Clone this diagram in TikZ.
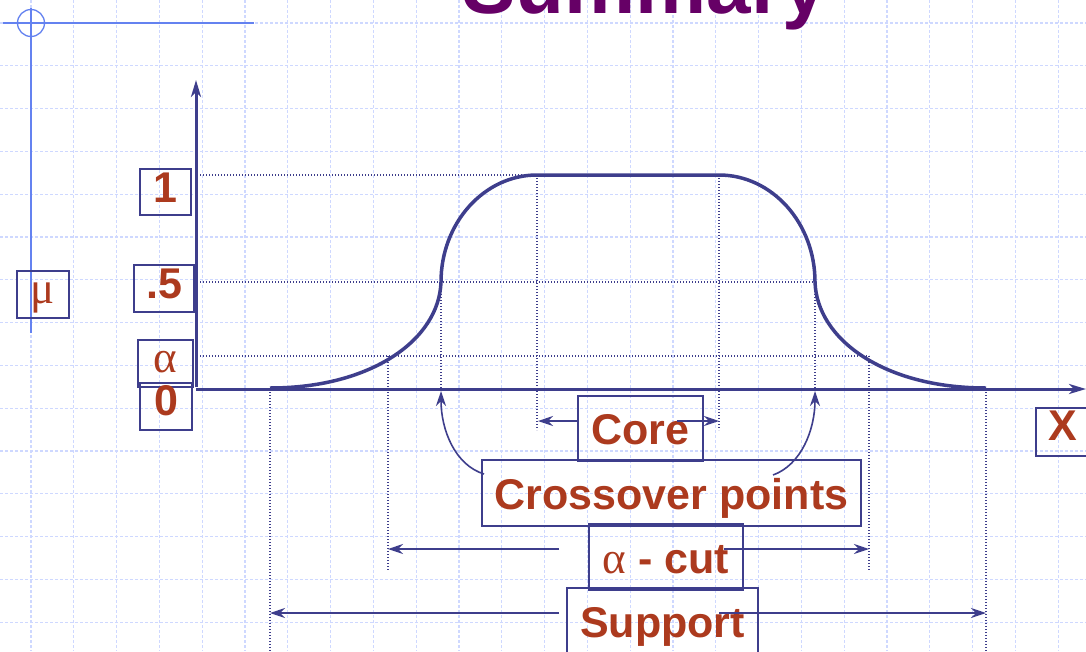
\documentclass[tikz,border=0pt]{standalone}
\usepackage{fontspec}
\setmainfont{Liberation Sans}
\newfontfamily\grk{Liberation Serif}
\usetikzlibrary{arrows.meta}
\definecolor{ink}{RGB}{62,62,140}
\definecolor{txt}{RGB}{172,58,30}
\definecolor{gridc}{RGB}{206,216,255}
\definecolor{deco}{RGB}{100,130,240}
\definecolor{ttl}{RGB}{102,0,102}
\begin{document}
\begin{tikzpicture}[x=1pt,y=-1pt,
  gridline/.style={gridc, line width=1.3pt, dash pattern=on 3pt off 2pt},
  guide/.style={ink, line width=1.3pt, dash pattern=on 1.3pt off 1.7pt},
  mf/.style={ink, line width=3.5pt},
  axisline/.style={ink, line width=3pt, -{Stealth[length=17pt,width=10pt,inset=5pt]}},
  lbl/.style={draw=ink, line width=1.2pt, inner sep=0pt, text=txt, font=\fontsize{43}{43}\selectfont\bfseries, text depth=0pt},
  grklbl/.style={lbl, font=\fontsize{45}{45}\selectfont\grk},
  ptr/.style={ink, line width=1.6pt, -{Stealth[length=15pt,width=10pt,inset=5pt]}},
  decoline/.style={deco, line width=1.3pt},
]
\useasboundingbox (0,0) rectangle (1086,651);
\clip (0,0) rectangle (1086,651);
\fill[white] (0,0) rectangle (1086,651);
% background grid
\foreach \i in {0,...,25} \draw[gridline] ({31+42.8*\i},0) -- ({31+42.8*\i},651);
\foreach \j in {0,...,15} \draw[gridline] (0,{23+42.8*\j}) -- (1086,{23+42.8*\j});
% slide decoration
\draw[decoline] (3,23) -- (254,23);
\draw[decoline] (31,8) -- (31,333);
\draw[decoline] (31,23) circle[radius=13.5pt];
% title (cut off by the top edge, as in the reference)
\node[font=\fontsize{80}{80}\selectfont\bfseries, text=ttl, anchor=base, inner sep=0pt] (title) at (644.5,13) {Summary};
% guides
\draw[guide] (197,175) -- (537,175);
\draw[guide] (197,282) -- (815,282);
\draw[guide] (197,356) -- (869,356);
\draw[guide] (537,175) -- (537,430);
\draw[guide] (719,175) -- (719,430);
\draw[guide] (441,282) -- (441,389);
\draw[guide] (815,282) -- (815,389);
\draw[guide] (388,356) -- (388,571);
\draw[guide] (869,356) -- (869,571);
\draw[guide] (270,389) -- (270,651);
\draw[guide] (986,389) -- (986,651);
% axes
\coordinate (o) at (196,387);
\coordinate (ytop) at (196,80);
\coordinate (xo) at (196,389);
\coordinate (xend) at (1086,389);
\draw[axisline] (o) -- (ytop);
\draw[axisline] (xo) -- (xend);
% membership function
\draw[mf] (270,388) .. controls (371,388) and (439,340) .. (441,282)
  .. controls (441,223) and (484,175) .. (537,175) -- (719,175)
  .. controls (772,175) and (815,223) .. (815,282)
  .. controls (817,340) and (885,388) .. (986,388);
% labels
\node[lbl, minimum width=51pt, minimum height=46pt, text height=20pt] (one) at (165.5,192) {1};
\node[lbl, minimum width=60pt, minimum height=47pt, text height=19pt] (half) at (164,288.5) {.5};
\node[grklbl, minimum width=55pt, minimum height=47pt, text height=17pt] (alpha) at (165.5,363.5) {α};
\node[lbl, minimum width=52pt, minimum height=47pt, text height=17pt] (zero) at (166,406.5) {0};
\node[grklbl, minimum width=52pt, minimum height=47pt, text height=17pt] (mu) at (43,294.5) {μ};
\node[lbl, minimum width=54pt, minimum height=48pt, text height=16pt] (xlab) at (1063,432) {X};
\node[lbl, minimum width=125pt, minimum height=65pt, text height=31pt] (core) at (640.5,428.5) {Core};
\node[lbl, minimum width=379pt, minimum height=66pt, text height=32pt] (cross) at (671.5,493) {Crossover points};
\node[lbl, minimum width=154pt, minimum height=66pt, text height=32pt] (acut) at (666,557) {{\grk\mdseries\fontsize{45}{45}\selectfont α} - cut};
\node[lbl, minimum width=191pt, minimum height=66pt, text height=32pt] (supp) at (662.5,621) {Support};
% arrow coordinates
\coordinate (coreL0) at (579,421);  \coordinate (coreL1) at (538,421);
\coordinate (coreR0) at (677,421);  \coordinate (coreR1) at (719,421);
\coordinate (acL0) at (559,549);    \coordinate (acL1) at (388,549);
\coordinate (acR0) at (724,549);    \coordinate (acR1) at (869,549);
\coordinate (spL0) at (559,613);    \coordinate (spL1) at (270,613);
\coordinate (spR0) at (719,613);    \coordinate (spR1) at (986,613);
\coordinate (crL0) at (484,474);    \coordinate (crL1) at (441,391);
\coordinate (crR0) at (773,475);    \coordinate (crR1) at (815,391);
\draw[ptr] (coreL0) -- (coreL1);
\draw[ptr] (coreR0) -- (coreR1);
\draw[ptr] (acL0) -- (acL1);
\draw[ptr] (acR0) -- (acR1);
\draw[ptr] (spL0) -- (spL1);
\draw[ptr] (spR0) -- (spR1);
\draw[ptr] (crL0) .. controls (455,465) and (441,430) .. (crL1);
\draw[ptr] (crR0) .. controls (801,465) and (815,430) .. (crR1);
\end{tikzpicture}
\end{document}
